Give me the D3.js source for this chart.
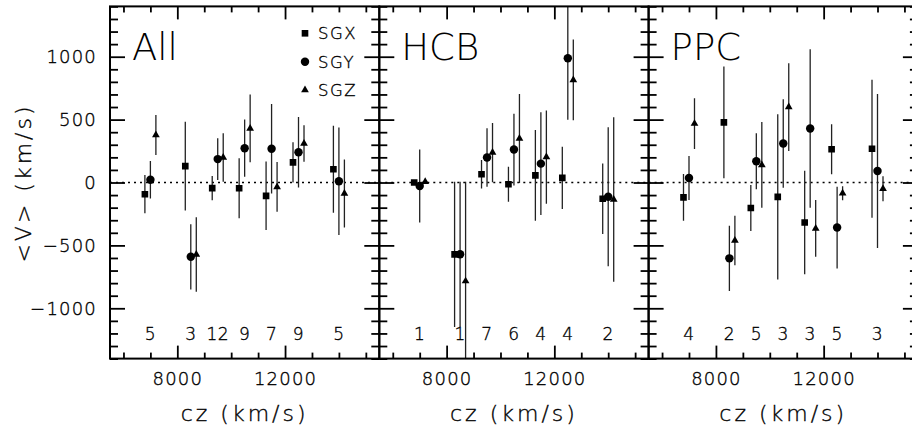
<!DOCTYPE html>
<html><head><meta charset="utf-8">
<script src="https://cdn.jsdelivr.net/npm/d3@7"></script>
<style>
body{margin:0;background:#fff}
svg{display:block}
text{font-family:"DejaVu Sans",sans-serif;fill:#000}
</style>
</head><body>
<svg id="c" width="912" height="429"></svg>
<script>
// ---------- data ----------
const cz = [7000, 8500, 9500, 10500, 11500, 12500, 14000];
const panelNames = ["All", "HCB", "PPC"];
const seriesNames = ["SGX", "SGY", "SGZ"];

const countsAll = [5, 3, 12, 9, 7, 9, 5];
const countsHCB = [1, 1, 7, 6, 4, 4, 2];
const countsPPC = [4, 2, 5, 3, 3, 5, 3];

const allSGX    = [-93, 130, -45, -46, -106, 160, 105];
const allSGXerr = [152, 352, 97, 239, 272, 160, 346];
const allSGY    = [22, -591, 186, 273, 268, 240, 10];
const allSGYerr = [149, 259, 166, 228, 356, 280, 428];
const allSGZ    = [378, -572, 199, 430, -35, 310, -88];
const allSGZerr = [159, 296, 193, 269, 198, 145, 270];

const hcbSGX    = [0, -571, 66, -14, 57, 37, -129];
const hcbSGXerr = [0, 577, 113, 139, 361, 248, 281];
const hcbSGY    = [-28, -571, 199, 262, 150, 988, -113];
const hcbSGYerr = [290, 577, 232, 285, 409, 490, 552];
const hcbSGZ    = [6, -784, 238, 350, 202, 815, -135];
const hcbSGZerr = [0, 790, 236, 354, 370, 321, 654];

const ppcSGX    = [-118, 478, -203, -114, -318, 264, 268];
const ppcSGXerr = [186, 444, 183, 657, 412, 199, 548];
const ppcSGY    = [36, -603, 169, 310, 430, -358, 92];
const ppcSGYerr = [175, 259, 223, 352, 630, 325, 612];
const ppcSGZ    = [468, -461, 140, 600, -365, -85, -50];
const ppcSGZerr = [202, 196, 341, 349, 226, 56, 100];

const xMajor = [8000, 12000];
const xMinor = [6000, 7000, 9000, 10000, 11000, 13000, 14000, 15000];
const yMajor = [-1000, -500, 0, 500, 1000];
const yMinor = d3.range(-1400, 1401, 100).filter(v => v % 500 !== 0);

// ---------- layout ----------
const panels = [
  {name: panelNames[0], counts: countsAll, series: [[allSGX, allSGXerr], [allSGY, allSGYerr], [allSGZ, allSGZerr]]},
  {name: panelNames[1], counts: countsHCB, series: [[hcbSGX, hcbSGXerr], [hcbSGY, hcbSGYerr], [hcbSGZ, hcbSGZerr]]},
  {name: panelNames[2], counts: countsPPC, series: [[ppcSGX, ppcSGXerr], [ppcSGY, ppcSGYerr], [ppcSGZ, ppcSGZerr]]}
];
const pLeft = 110, pw = 269.3, pTop = 6.4, pBottom = 358.6;
const y = d3.scaleLinear().domain([-1400, 1400]).range([pBottom, pTop]);
const svg = d3.select("#c");
const symbols = [d3.symbolSquare, d3.symbolCircle, d3.symbolTriangle];
const symSizes = [44, 56, 26];
const offsets = [-5.5, 0, 5.5];
const minusFmt = d => d < 0 ? "\u2212" + Math.abs(d) : String(d);

function noDomain(g){ g.select(".domain").remove(); g.selectAll(".tick line").attr("stroke","#000").attr("stroke-width",1.8); }
function thinText(sel, size, ls){
  sel.attr("font-size", size).attr("letter-spacing", ls).attr("font-family", "DejaVu Sans")
     .attr("font-weight", 200).attr("fill", "#000").attr("stroke", "#000").attr("stroke-width", 0.35);
}

panels.forEach((p, i) => {
  const x0 = pLeft + i * pw;
  const x = d3.scaleLinear().domain([5500, 15500]).range([x0, x0 + pw]);
  const g = svg.append("g");

  const clipId = "clip" + i;
  svg.append("clipPath").attr("id", clipId).append("rect")
    .attr("x", x0).attr("y", pTop).attr("width", pw).attr("height", pBottom - pTop);

  // zero line
  g.append("line").attr("x1", x0).attr("x2", x0 + pw).attr("y1", y(0)).attr("y2", y(0))
    .attr("stroke", "#000").attr("stroke-width", 1.3).attr("stroke-dasharray", "2,4");

  // ticks (inward on all four sides)
  g.append("g").attr("transform", `translate(0,${pBottom})`).call(d3.axisTop(x).tickValues(xMinor).tickSize(6).tickFormat("")).call(noDomain);
  g.append("g").attr("transform", `translate(0,${pBottom})`).call(d3.axisTop(x).tickValues(xMajor).tickSize(13).tickFormat("")).call(noDomain);
  g.append("g").attr("transform", `translate(0,${pTop})`).call(d3.axisBottom(x).tickValues(xMinor).tickSize(6).tickFormat("")).call(noDomain);
  g.append("g").attr("transform", `translate(0,${pTop})`).call(d3.axisBottom(x).tickValues(xMajor).tickSize(13).tickFormat("")).call(noDomain);
  g.append("g").attr("transform", `translate(${x0},0)`).call(d3.axisRight(y).tickValues(yMinor).tickSize(8).tickFormat("")).call(noDomain);
  g.append("g").attr("transform", `translate(${x0},0)`).call(d3.axisRight(y).tickValues(yMajor).tickSize(15).tickFormat("")).call(noDomain);
  g.append("g").attr("transform", `translate(${x0 + pw},0)`).call(d3.axisLeft(y).tickValues(yMinor).tickSize(8).tickFormat("")).call(noDomain);
  g.append("g").attr("transform", `translate(${x0 + pw},0)`).call(d3.axisLeft(y).tickValues(yMajor).tickSize(15).tickFormat("")).call(noDomain);

  // x tick labels
  const xl = g.append("g").attr("transform", `translate(0,${pBottom})`)
    .call(d3.axisBottom(x).tickValues(xMajor).tickSize(0).tickPadding(14).tickFormat(d3.format("d")));
  xl.select(".domain").remove();
  thinText(xl.selectAll("text"), 18, 1.2);

  // y tick labels (first panel only)
  if (i === 0) {
    const yl = g.append("g").attr("transform", `translate(${x0},0)`)
      .call(d3.axisLeft(y).tickValues(yMajor).tickSize(0).tickPadding(13).tickFormat(minusFmt));
    yl.select(".domain").remove();
    thinText(yl.selectAll("text"), 18, 1.2);
  }

  // data
  const dg = g.append("g").attr("clip-path", `url(#${clipId})`);
  p.series.forEach(([vals, errs], s) => {
    cz.forEach((c, k) => {
      const px = x(c) + offsets[s];
      if (errs[k] > 0) {
        dg.append("line").attr("x1", px).attr("x2", px)
          .attr("y1", y(vals[k] - errs[k])).attr("y2", y(vals[k] + errs[k]))
          .attr("stroke", "#222").attr("stroke-width", 1.3);
      }
      dg.append("path").attr("d", d3.symbol().type(symbols[s]).size(symSizes[s])())
        .attr("transform", `translate(${px},${y(vals[k])})`).attr("fill", "#000");
    });
  });

  // counts
  const ct = g.selectAll(".cnt").data(p.counts).enter().append("text")
    .attr("x", (d, k) => x(cz[k])).attr("y", 340)
    .attr("text-anchor", "middle")
    .text(d => d);
  thinText(ct, 17, 0.5);

  // panel title
  g.append("text").attr("x", x0 + 22).attr("y", 60).attr("font-size", 37).attr("font-weight", 200)
    .text(p.name);

  // x axis label
  const xt = g.append("text").attr("x", x0 + pw / 2).attr("y", 421).attr("text-anchor", "middle")
    .text("cz (km/s)");
  thinText(xt, 22, 3);

  // frame
  g.append("rect").attr("x", x0).attr("y", pTop).attr("width", pw).attr("height", pBottom - pTop)
    .attr("fill", "none").attr("stroke", "#000").attr("stroke-width", 2);
});

// legend (panel 1)
const legY = [33.3, 61.7, 90];
seriesNames.forEach((n, s) => {
  svg.append("path").attr("d", d3.symbol().type(symbols[s]).size(symSizes[s])())
    .attr("transform", `translate(305,${legY[s]})`).attr("fill", "#000");
  const lt = svg.append("text").attr("x", 318).attr("y", legY[s]).attr("dy", "0.36em").text(n);
  thinText(lt, 16.5, 1.5);
});

// y axis label
const yt = svg.append("text").attr("transform", "translate(31,183) rotate(-90)")
  .attr("text-anchor", "middle").text("<V> (km/s)");
thinText(yt, 22, 3);
</script>
</body></html>
